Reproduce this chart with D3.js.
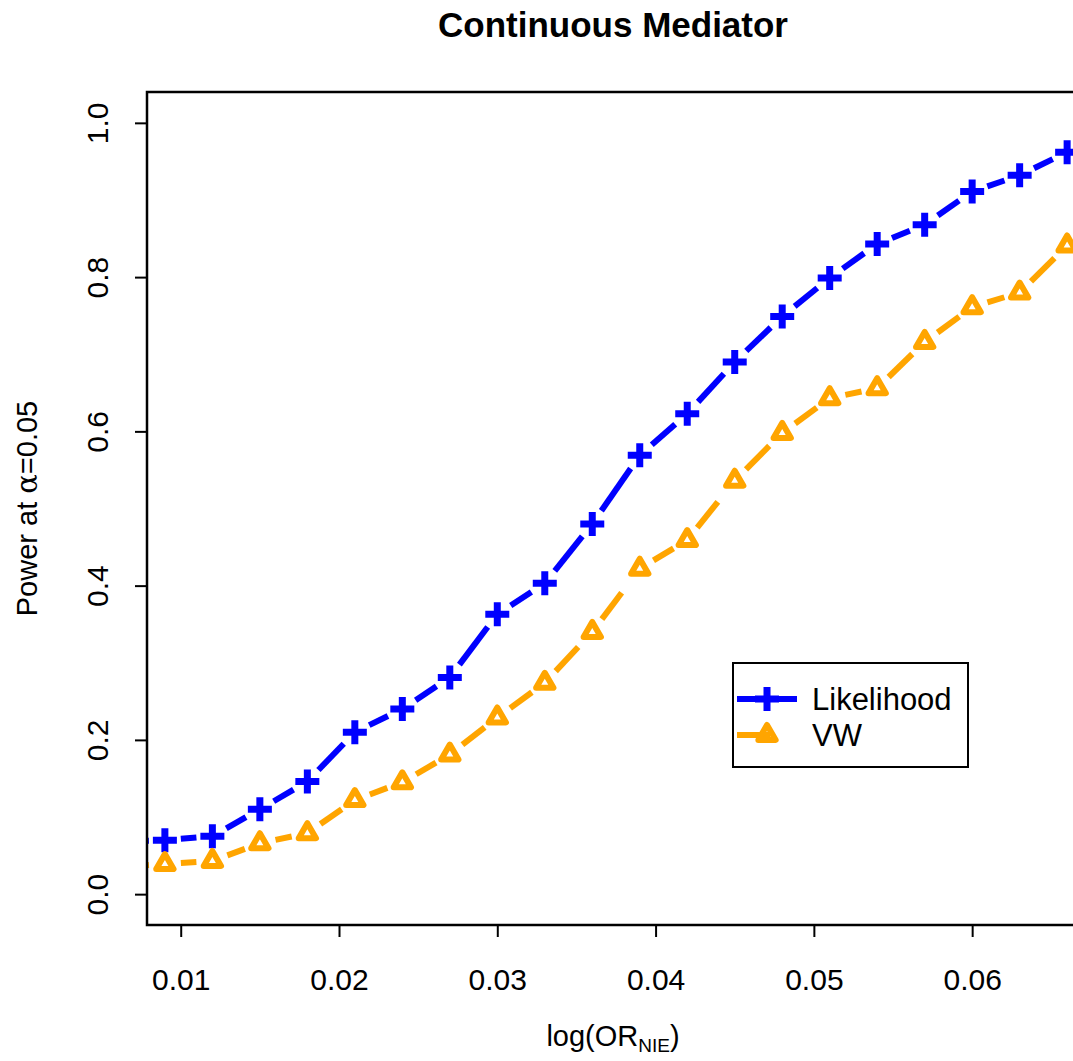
<!DOCTYPE html>
<html>
<head>
<meta charset="utf-8">
<script src="https://cdn.jsdelivr.net/npm/d3@7"></script>
<style>
  body { margin: 0; background: #fff; }
  text { font-family: "Liberation Sans", Arial, sans-serif; fill: #000; }
</style>
</head>
<body>
<div id="chart"></div>
<script>
// values
const logOR = [0.006, 0.009, 0.012, 0.015, 0.018, 0.021, 0.024, 0.027, 0.030, 0.033, 0.036,
  0.039, 0.042, 0.045, 0.048, 0.051, 0.054, 0.057, 0.060, 0.063, 0.066];
const likelihood = [0.068, 0.070, 0.075, 0.110, 0.146, 0.210, 0.240, 0.281, 0.363, 0.403, 0.480,
  0.569, 0.623, 0.690, 0.749, 0.799, 0.843, 0.868, 0.911, 0.932, 0.962];
const vw = [0.035, 0.039, 0.043, 0.066, 0.079, 0.122, 0.145, 0.181, 0.229, 0.274, 0.340,
  0.422, 0.459, 0.536, 0.598, 0.643, 0.656, 0.716, 0.761, 0.780, 0.841];
const xTicks = [0.01, 0.02, 0.03, 0.04, 0.05, 0.06];
const yTicks = [0, 0.2, 0.4, 0.6, 0.8, 1.0];
const seriesNames = ['Likelihood', 'VW'];

const W = 1073, H = 1061;
const plot = { left: 147, right: 1079, top: 92, bottom: 925 };

const svg = d3.select('#chart').append('svg')
  .attr('width', W)
  .attr('height', H);

const x = d3.scaleLinear().domain([0.00787, 0.06675]).range([plot.left, plot.right]);
const y = d3.scaleLinear().domain([-0.04, 1.04]).range([plot.bottom, plot.top]);

svg.append('clipPath').attr('id', 'plotclip')
  .append('rect')
  .attr('x', plot.left).attr('y', plot.top)
  .attr('width', plot.right - plot.left).attr('height', plot.bottom - plot.top);

// axes
const xAxis = svg.append('g')
  .attr('transform', `translate(0,${plot.bottom})`)
  .call(d3.axisBottom(x).tickValues(xTicks).tickFormat(d3.format('.2f')).tickSize(12).tickPadding(32).tickSizeOuter(0));
xAxis.select('.domain').remove();
xAxis.selectAll('.tick line').attr('stroke', '#000').attr('stroke-width', 2);
xAxis.selectAll('.tick text').style('font-size', '30px').attr('fill', '#000');

const yAxis = svg.append('g')
  .attr('transform', `translate(${plot.left},0)`)
  .call(d3.axisLeft(y).tickValues(yTicks).tickFormat(d3.format('.1f')).tickSize(12).tickSizeOuter(0));
yAxis.select('.domain').remove();
yAxis.selectAll('.tick line').attr('stroke', '#000').attr('stroke-width', 2);
yAxis.selectAll('.tick text')
  .style('font-size', '30px')
  .attr('fill', '#000')
  .attr('transform', 'rotate(-90)')
  .attr('x', 0)
  .attr('y', -39)
  .attr('dy', null)
  .attr('text-anchor', 'middle');

// marks, R type="b": segments with a gap round each point
const gap = 16;
function drawSeries(vals, color, dash) {
  const g = svg.append('g').attr('clip-path', 'url(#plotclip)');
  for (let i = 0; i < logOR.length - 1; i++) {
    const x0 = x(logOR[i]), y0 = y(vals[i]);
    const x1 = x(logOR[i + 1]), y1 = y(vals[i + 1]);
    const d = Math.hypot(x1 - x0, y1 - y0);
    if (d <= 2 * gap) continue;
    const ux = (x1 - x0) / d, uy = (y1 - y0) / d;
    g.append('line')
      .attr('x1', x0 + ux * gap).attr('y1', y0 + uy * gap)
      .attr('x2', x1 - ux * gap).attr('y2', y1 - uy * gap)
      .attr('stroke', color)
      .attr('stroke-width', 6)
      .attr('stroke-dasharray', dash);
  }
  return g;
}

function cross(g, cx, cy, color) {
  const a = 12;
  g.append('path')
    .attr('d', `M${cx - a},${cy}H${cx + a}M${cx},${cy - a}V${cy + a}`)
    .attr('stroke', color)
    .attr('stroke-width', 7)
    .attr('fill', 'none');
}

function triangle(g, cx, cy, color) {
  const r = 10;
  const pts = [[cx, cy - r], [cx + r * Math.sqrt(3) / 2, cy + r / 2], [cx - r * Math.sqrt(3) / 2, cy + r / 2]];
  g.append('path')
    .attr('d', 'M' + pts.join('L') + 'Z')
    .attr('stroke', color)
    .attr('stroke-width', 6)
    .attr('stroke-linejoin', 'round')
    .attr('fill', 'none');
}

const gL = drawSeries(likelihood, '#0000ff', null);
logOR.forEach((v, i) => cross(gL, x(v), y(likelihood[i]), '#0000ff'));

const gV = drawSeries(vw, '#ffa500', '33,33');
logOR.forEach((v, i) => triangle(gV, x(v), y(vw[i]), '#ffa500'));

// box
svg.append('rect')
  .attr('x', plot.left).attr('y', plot.top)
  .attr('width', plot.right - plot.left).attr('height', plot.bottom - plot.top)
  .attr('fill', 'none')
  .attr('stroke', '#000')
  .attr('stroke-width', 2.5);

// legend
const leg = svg.append('g');
leg.append('rect')
  .attr('x', 733).attr('y', 663).attr('width', 235).attr('height', 104)
  .attr('fill', '#fff').attr('stroke', '#000').attr('stroke-width', 2);
const legY = [699, 735];
leg.append('line').attr('x1', 737).attr('x2', 797).attr('y1', legY[0]).attr('y2', legY[0])
  .attr('stroke', '#0000ff').attr('stroke-width', 6);
cross(leg, 767, legY[0], '#0000ff');
leg.append('line').attr('x1', 737).attr('x2', 797).attr('y1', legY[1]).attr('y2', legY[1])
  .attr('stroke', '#ffa500').attr('stroke-width', 6).attr('stroke-dasharray', '33,33');
triangle(leg, 767, legY[1], '#ffa500');
seriesNames.forEach((name, i) => {
  leg.append('text')
    .attr('x', 812).attr('y', legY[i] + 11)
    .style('font-size', '31px')
    .text(name);
});

// titles
svg.append('text')
  .attr('x', (plot.left + plot.right) / 2).attr('y', 37)
  .attr('text-anchor', 'middle')
  .style('font-size', '35px').style('font-weight', 'bold')
  .text('Continuous Mediator');

const xl = svg.append('text')
  .attr('x', (plot.left + plot.right) / 2).attr('y', 1046)
  .attr('text-anchor', 'middle')
  .style('font-size', '29px');
xl.append('tspan').text('log(OR');
xl.append('tspan').attr('dy', 6).style('font-size', '19px').text('NIE');
xl.append('tspan').attr('dy', -6).text(')');

const yl = svg.append('text')
  .attr('transform', `translate(37,${(plot.top + plot.bottom) / 2}) rotate(-90)`)
  .attr('text-anchor', 'middle')
  .style('font-size', '29px');
yl.append('tspan').text('Power at ');
yl.append('tspan').style('font-family', '"DejaVu Serif", serif').text('α');
yl.append('tspan').text('=0.05');
</script>
</body>
</html>
